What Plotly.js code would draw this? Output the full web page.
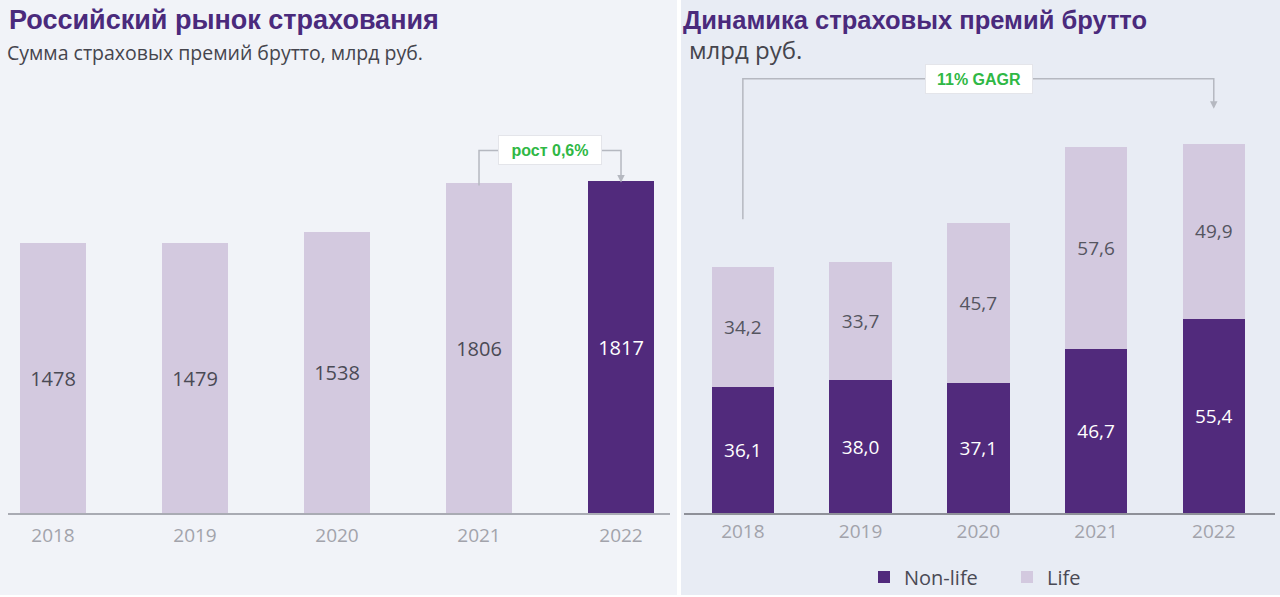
<!DOCTYPE html>
<html>
<head>
<meta charset="utf-8">
<script src="https://cdn.plot.ly/plotly-3.0.1.min.js"></script>
<style>
  html, body { margin: 0; padding: 0; background: #ffffff; }
  #chart { width: 1280px; height: 597px; }
</style>
</head>
<body>
<div id="chart"></div>
<script>
// Data
const years = ['2018', '2019', '2020', '2021', '2022'];
const marketTotal = [1478, 1479, 1538, 1806, 1817];   // млрд руб.
const nonLife = [36.1, 38.0, 37.1, 46.7, 55.4];
const life = [34.2, 33.7, 45.7, 57.6, 49.9];
const premiumTotal = [70.3, 71.7, 82.8, 104.3, 105.3];

// Colours
const PURPLE = '#512a7c';
const LAVENDER = '#d3c9df';
const GREEN = '#2fb845';

const fmt = v => v.toFixed(1).replace('.', ',');
const last = years.length - 1;
const py = px => 1 - px / 597;   // pixel row -> paper y

// Left chart: market size, last year highlighted
const marketTrace = {
    x: years,
    y: marketTotal,
    type: 'bar',
    width: 0.465,
    xaxis: 'x',
    yaxis: 'y',
    marker: {color: years.map((y, i) => i === last ? PURPLE : LAVENDER)},
    text: marketTotal.map(String),
    textposition: 'inside',
    insidetextanchor: 'middle',
    textangle: 0,
    constraintext: 'none',
    textfont: {
        family: 'Open Sans, sans-serif',
        size: 20,
        color: years.map((y, i) => i === last ? '#ffffff' : '#4a4a55')
    },
    hoverinfo: 'skip',
    showlegend: false
};

// Right chart: stacked non-life / life
const nonLifeTrace = {
    x: years,
    y: nonLife,
    name: 'Non-life',
    type: 'bar',
    width: 0.53,
    xaxis: 'x2',
    yaxis: 'y2',
    marker: {color: PURPLE},
    text: nonLife.map(fmt),
    textposition: 'inside',
    insidetextanchor: 'middle',
    textangle: 0,
    constraintext: 'none',
    textfont: {family: 'Open Sans, sans-serif', size: 19, color: '#ffffff'},
    hoverinfo: 'skip'
};

const lifeTrace = {
    x: years,
    y: life,
    name: 'Life',
    type: 'bar',
    width: 0.53,
    xaxis: 'x2',
    yaxis: 'y2',
    marker: {color: LAVENDER},
    text: life.map(fmt),
    textposition: 'inside',
    insidetextanchor: 'middle',
    textangle: 0,
    constraintext: 'none',
    textfont: {family: 'Open Sans, sans-serif', size: 19, color: '#55555f'},
    hoverinfo: 'skip'
};

// Titles
const boldFamily = 'Liberation Sans, Arial, sans-serif';
const badgeFont = {family: boldFamily, size: 16, color: GREEN};

let annotations = [
    {text: '<b>Российский рынок страхования</b>', xref: 'paper', yref: 'paper',
     x: 7 / 1280, y: py(20), xanchor: 'left', yanchor: 'middle', showarrow: false,
     font: {family: boldFamily, size: 27, color: '#4a2a7c'}},
    {text: 'Сумма страховых премий брутто, млрд руб.', xref: 'paper', yref: 'paper',
     x: 5 / 1280, y: py(53), xanchor: 'left', yanchor: 'middle', showarrow: false,
     font: {family: 'Open Sans, sans-serif', size: 19.5, color: '#45454d'}},
    {text: '<b>Динамика страховых премий брутто</b>', xref: 'paper', yref: 'paper',
     x: 681 / 1280, y: py(20), xanchor: 'left', yanchor: 'middle', showarrow: false,
     font: {family: boldFamily, size: 25.5, color: '#4a2a7c'}},
    {text: 'млрд руб.', xref: 'paper', yref: 'paper',
     x: 687 / 1280, y: py(50), xanchor: 'left', yanchor: 'middle', showarrow: false,
     font: {family: 'Open Sans, sans-serif', size: 24, color: '#45454d'}},
    // growth badges
    {text: '<b>рост 0,6%</b>', xref: 'x', yref: 'paper', x: 3.5, y: py(151),
     xanchor: 'center', yanchor: 'middle', showarrow: false, font: badgeFont,
     bgcolor: '#ffffff', bordercolor: '#e4e5ea', borderwidth: 1, width: 100, height: 26},
    {text: '<b>11% GAGR</b>', xref: 'paper', yref: 'paper', x: 979 / 1280, y: py(79),
     xanchor: 'center', yanchor: 'middle', showarrow: false, font: badgeFont,
     bgcolor: '#ffffff', bordercolor: '#e4e5ea', borderwidth: 1, width: 104, height: 26}
];

// Totals above stacked bars
premiumTotal.forEach((t, i) => {
    annotations.push({
        text: '<b>' + fmt(t) + '</b>', xref: 'x2', yref: 'y2', x: years[i], y: t,
        yanchor: 'bottom', yshift: 6, showarrow: false,
        font: {family: boldFamily, size: 17, color: '#222222'}
    });
});

const lineStyle = {color: '#b5b8c0', width: 1.5};

const shapes = [
    // panel backgrounds
    {type: 'rect', xref: 'paper', yref: 'paper', x0: 0, x1: 677 / 1280, y0: 0, y1: 1,
     fillcolor: '#f1f3f8', line: {width: 0}, layer: 'below'},
    {type: 'rect', xref: 'paper', yref: 'paper', x0: 681 / 1280, x1: 1, y0: 0, y1: 1,
     fillcolor: '#e8ecf4', line: {width: 0}, layer: 'below'},
    // left connector: 2021 -> 2022
    {type: 'path', xref: 'x', yref: 'paper',
     path: 'M 3,' + py(186) + ' L 3,' + py(151) + ' L 4,' + py(151) + ' L 4,' + py(180),
     line: lineStyle},
    // right connector: 2018 -> 2022
    {type: 'path', xref: 'x2', yref: 'paper',
     path: 'M 0,' + py(220) + ' L 0,' + py(79) + ' L 4,' + py(79) + ' L 4,' + py(106),
     line: lineStyle}
];

// small arrow heads
annotations.push(
    {xref: 'x', yref: 'paper', x: 4, y: py(183), ax: 0, ay: -8, showarrow: true,
     arrowhead: 2, arrowsize: 1, arrowwidth: 1.5, arrowcolor: '#b5b8c0', text: ''},
    {xref: 'x2', yref: 'paper', x: 4, y: py(109), ax: 0, ay: -8, showarrow: true,
     arrowhead: 2, arrowsize: 1, arrowwidth: 1.5, arrowcolor: '#b5b8c0', text: ''}
);

const yDomain = [py(515), py(125)];
const tickFont = {family: 'Open Sans, sans-serif', size: 19, color: '#a2a3ab'};

const layout = {
    width: 1280,
    height: 597,
    margin: {l: 0, r: 0, t: 0, b: 0},
    paper_bgcolor: '#ffffff',
    plot_bgcolor: 'rgba(0,0,0,0)',
    barmode: 'stack',
    xaxis: {
        domain: [8 / 1280, 670 / 1280],
        anchor: 'y',
        type: 'category',
        range: [-0.317, 4.345],
        showline: true, linecolor: '#a9abb3', linewidth: 2,
        ticks: '', ticklabelstandoff: 4,
        tickfont: tickFont, showgrid: false, zeroline: false
    },
    yaxis: {
        domain: yDomain,
        anchor: 'x',
        range: [0, 2125],
        visible: false
    },
    xaxis2: {
        domain: [684 / 1280, 1275 / 1280],
        anchor: 'y2',
        type: 'category',
        range: [-0.5, 4.52],
        showline: true, linecolor: '#8e9098', linewidth: 2,
        ticks: '', ticklabelstandoff: 0,
        tickfont: tickFont, showgrid: false, zeroline: false
    },
    yaxis2: {
        domain: yDomain,
        anchor: 'x2',
        range: [0, 110.8],
        visible: false
    },
    showlegend: true,
    legend: {
        orientation: 'h',
        x: 864 / 1280, xanchor: 'left',
        y: py(579), yanchor: 'middle',
        font: {family: 'Open Sans, sans-serif', size: 20, color: '#4a4a55'},
        itemwidth: 30,
        entrywidth: 98,
        traceorder: 'normal',
        bgcolor: 'rgba(0,0,0,0)'
    },
    annotations: annotations,
    shapes: shapes
};

const config = {staticPlot: true, displayModeBar: false};

Plotly.newPlot('chart', [marketTrace, nonLifeTrace, lifeTrace], layout, config);
</script>
</body>
</html>
